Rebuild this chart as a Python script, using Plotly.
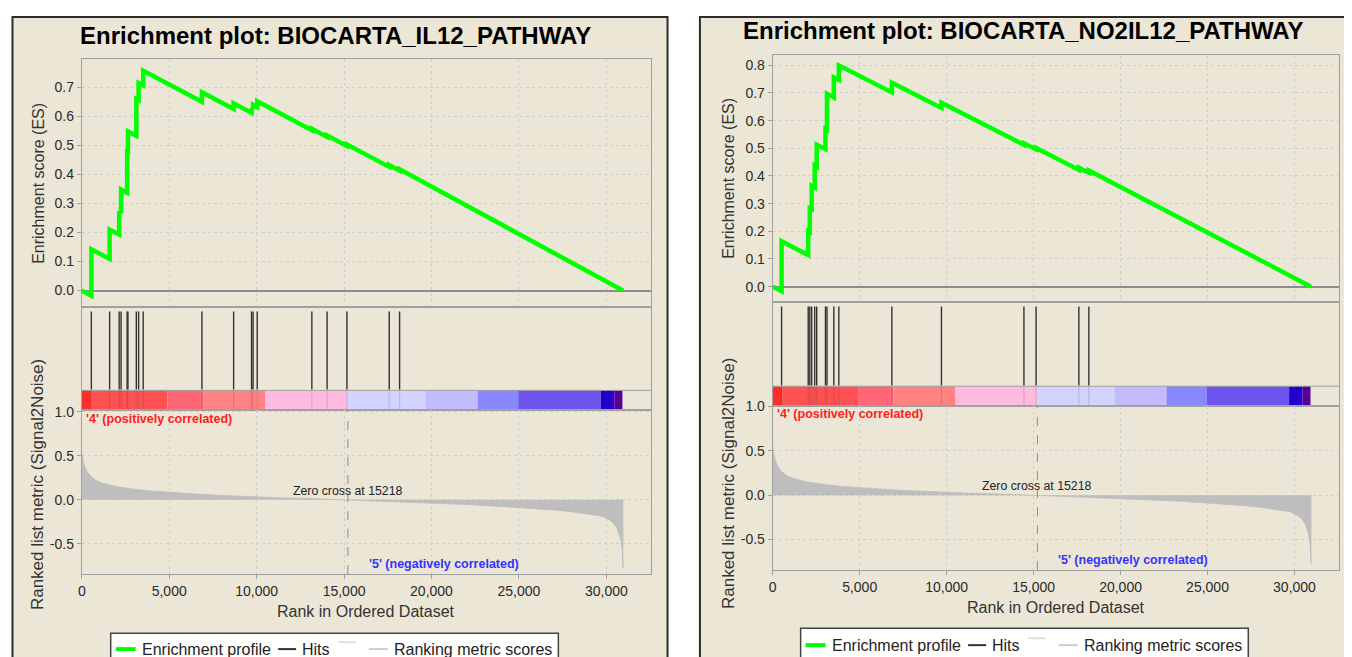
import plotly.graph_objects as go

# The page keeps the browser's default 8px body margin, so the figure is
# placed at (8, 8) of the page; geometry below is given in page pixels.
PAGE_OFF = 8
W, H = 1336, 649
FONT = "Liberation Sans, Arial, sans-serif"

# ---------------- data ----------------
X_TICKS = [0, 5000, 10000, 15000, 20000, 25000, 30000]
X_TICK_LABELS = ["0", "5,000", "10,000", "15,000", "20,000", "25,000", "30,000"]
X_MAX = 32560

ES_TICKS_LEFT = [0.0, 0.1, 0.2, 0.3, 0.4, 0.5, 0.6, 0.7]
ES_TICKS_RIGHT = [0.0, 0.1, 0.2, 0.3, 0.4, 0.5, 0.6, 0.7, 0.8]
METRIC_TICKS = [-0.5, 0.0, 0.5, 1.0]

TITLE_LEFT = "Enrichment plot: BIOCARTA_IL12_PATHWAY"
TITLE_RIGHT = "Enrichment plot: BIOCARTA_NO2IL12_PATHWAY"

LEFT_HITS = [547, 1591, 2138, 2246, 2594, 2640, 3119, 3250, 3512, 6870, 8683,
             9709, 9795, 10034, 13158, 14031, 15165, 17583, 18176]
LEFT_ES_RANK = [0, 547, 547, 1591, 1591, 2138, 2138, 2246, 2246, 2594, 2594,
                2640, 2640, 3119, 3119, 3250, 3250, 3512, 3512, 6870, 6870,
                8683, 8683, 9709, 9709, 9795, 9795, 10034, 10034, 13158, 13158,
                14031, 14031, 15165, 15165, 17583, 17583, 18176, 18176, 30950]
LEFT_ES_VALUE = [0.0, -0.018, 0.142, 0.109, 0.21, 0.193, 0.272, 0.268, 0.348,
                 0.337, 0.478, 0.477, 0.548, 0.533, 0.66, 0.656, 0.715, 0.707,
                 0.757, 0.65, 0.683, 0.625, 0.645, 0.612, 0.628, 0.625, 0.64,
                 0.632, 0.652, 0.552, 0.557, 0.529, 0.534, 0.498, 0.503, 0.426,
                 0.432, 0.413, 0.418, 0.0]

RIGHT_HITS = [510, 2041, 2133, 2242, 2414, 2529, 3033, 3119, 3515, 3802, 6852,
              9702, 14444, 15143, 17603, 18177]
RIGHT_ES_RANK = [0, 510, 510, 2041, 2041, 2133, 2133, 2242, 2242, 2414, 2414,
                 2529, 2529, 3033, 3033, 3119, 3119, 3515, 3515, 3802, 3802,
                 6852, 6852, 9702, 9702, 14444, 14444, 15143, 15143, 17603,
                 17603, 18177, 18177, 30950]
RIGHT_ES_VALUE = [0.0, -0.017, 0.164, 0.114, 0.2, 0.197, 0.283, 0.28, 0.364,
                  0.358, 0.438, 0.434, 0.513, 0.497, 0.57, 0.567, 0.697, 0.684,
                  0.756, 0.747, 0.80, 0.702, 0.737, 0.646, 0.665, 0.513, 0.518,
                  0.496, 0.501, 0.422, 0.43, 0.412, 0.42, 0.0]

METRIC_RANK = [0, 100, 300, 500, 800, 1200, 2000, 3000, 4000, 5000, 6000, 7000,
               8000, 9000, 10000, 11500, 13000, 14000, 15218, 16000, 17000,
               18000, 19000, 20000, 21000, 22000, 23000, 24000, 25000, 26000,
               27000, 28000, 29000, 29760, 30200, 30430, 30600, 30710, 30800,
               30860, 30920, 30950, 30950]
METRIC_VALUE = [0.54, 0.42, 0.32, 0.27, 0.22, 0.19, 0.15, 0.12, 0.10, 0.085,
                0.07, 0.06, 0.05, 0.04, 0.032, 0.022, 0.015, 0.008, 0.0,
                -0.008, -0.015, -0.022, -0.03, -0.037, -0.045, -0.053, -0.063,
                -0.075, -0.088, -0.1, -0.115, -0.135, -0.16, -0.185, -0.23,
                -0.27, -0.32, -0.37, -0.43, -0.5, -0.6, -0.77, 0.0]
ZERO_CROSS = 15218

BAND_EDGES = [0, 570, 4900, 6950, 10500, 15200, 19650, 22640, 24960, 29690,
              30460, 30920]
BAND_COLORS = ["#FF2E2E", "#FF5151", "#FF6777", "#FF8383", "#FFBBDF",
               "#D3D3FF", "#C4BBFF", "#8888FF", "#6E55EE", "#2400CF", "#560099"]

LEGEND_LABELS = ["Enrichment profile", "Hits", "Ranking metric scores"]


# ---------------- layout geometry (page pixels) ----------------
def fx(p):
    return (p - PAGE_OFF) / W


def fy(p):
    return 1 - (p - PAGE_OFF) / H


panels = [
    dict(title=TITLE_LEFT, title_x=332, title_y=28, frame=(8.5, 665.5),
         plot_x=(78, 649), es_y=(52, 303), hits_y=(303, 407),
         metric_y=(407, 573), es_range=[-0.058, 0.796],
         metric_range=[-0.843, 1.02], es_ticks=ES_TICKS_LEFT,
         hits=LEFT_HITS, es_rank=LEFT_ES_RANK, es_val=LEFT_ES_VALUE,
         es_title_x=35, es_title_y=177, m_title_x=33, m_title_y=482,
         xtitle_y=611, legend_x=107, legend_top=633, legend_text_y=649,
         pos_y=0.92),
    dict(title=TITLE_RIGHT, title_x=1023, title_y=23, frame=(698, 1347),
         plot_x=(771, 1339), es_y=(47, 298), hits_y=(298, 403),
         metric_y=(403, 569), es_range=[-0.057, 0.839],
         metric_range=[-0.844, 1.005], es_ticks=ES_TICKS_RIGHT,
         hits=RIGHT_HITS, es_rank=RIGHT_ES_RANK, es_val=RIGHT_ES_VALUE,
         es_title_x=727, es_title_y=172, m_title_x=726, m_title_y=481,
         xtitle_y=607, legend_x=799, legend_top=628, legend_text_y=645,
         pos_y=0.915),
]

fig = go.Figure()
layout = dict(width=W, height=H, margin=dict(l=0, r=0, t=0, b=0),
              paper_bgcolor="white", plot_bgcolor="white", showlegend=False,
              font=dict(family=FONT, color="#333333"))
shapes = []
annotations = []

GRID = "#CFCFCF"
BORDER = "#A0A0A0"
TICK_FONT = dict(size=14, color="#2A2A2A")
HIT_BOTTOM, HIT_TOP, BAR_TOP = 0.2, 0.96, 0.192


def axname(n, kind):
    return f"{kind}axis" if n == 1 else f"{kind}axis{n}"


def ref(n, kind):
    return kind if n == 1 else f"{kind}{n}"


for i, p in enumerate(panels):
    n_es, n_hits, n_m = 3 * i + 1, 3 * i + 2, 3 * i + 3
    xdom = [fx(p["plot_x"][0]), fx(p["plot_x"][1])]

    # panel frame (beige)
    shapes.append(dict(type="rect", xref="paper", yref="paper",
                       x0=fx(p["frame"][0]), x1=fx(p["frame"][1]),
                       y0=fy(700), y1=fy(9), fillcolor="#ECE6D6",
                       line=dict(color="#2B2B2B", width=2), layer="below"))

    base_x = dict(range=[0, X_MAX], domain=xdom, showline=True, mirror=True,
                  linecolor=BORDER, linewidth=1, zeroline=False,
                  fixedrange=True, tickvals=X_TICKS)
    # ES axes
    layout[axname(n_es, "x")] = dict(base_x, anchor=ref(n_es, "y"),
                                     showgrid=True, gridcolor=GRID,
                                     griddash="dot", showticklabels=False,
                                     ticks="")
    layout[axname(n_es, "y")] = dict(
        domain=[fy(p["es_y"][1]), fy(p["es_y"][0])], range=p["es_range"],
        anchor=ref(n_es, "x"), tickvals=p["es_ticks"],
        ticktext=[f"{v:.1f}" for v in p["es_ticks"]], ticks="outside",
        ticklen=4, tickcolor=BORDER, showgrid=True, gridcolor=GRID,
        griddash="dot", zeroline=True, zerolinecolor="#8C8C8C",
        zerolinewidth=1.5, showline=True, mirror=True, linecolor=BORDER,
        tickfont=TICK_FONT, fixedrange=True)
    # hits axes
    layout[axname(n_hits, "x")] = dict(base_x, anchor=ref(n_hits, "y"),
                                       showgrid=False, showticklabels=False,
                                       ticks="")
    layout[axname(n_hits, "y")] = dict(
        domain=[fy(p["hits_y"][1]), fy(p["hits_y"][0])], range=[0, 1],
        anchor=ref(n_hits, "x"), showgrid=False, showticklabels=False,
        zeroline=False, showline=True, mirror=True, linecolor=BORDER,
        ticks="", fixedrange=True)
    # metric axes
    layout[axname(n_m, "x")] = dict(base_x, anchor=ref(n_m, "y"),
                                    showgrid=True, gridcolor=GRID,
                                    griddash="dot", ticktext=X_TICK_LABELS,
                                    ticks="outside", ticklen=4,
                                    tickcolor=BORDER, tickfont=TICK_FONT)
    layout[axname(n_m, "y")] = dict(
        domain=[fy(p["metric_y"][1]), fy(p["metric_y"][0])],
        range=p["metric_range"], anchor=ref(n_m, "x"),
        tickvals=METRIC_TICKS, ticktext=[f"{v:.1f}" for v in METRIC_TICKS],
        ticks="outside", ticklen=4, tickcolor=BORDER, showgrid=True,
        gridcolor=GRID, griddash="dot", zeroline=False, showline=True,
        mirror=True, linecolor=BORDER, tickfont=TICK_FONT, fixedrange=True)

    xr_es, yr_es = ref(n_es, "x"), ref(n_es, "y")
    xr_h, yr_h = ref(n_hits, "x"), ref(n_hits, "y")
    xr_m, yr_m = ref(n_m, "x"), ref(n_m, "y")

    # ranked list metric
    fig.add_trace(go.Scatter(x=METRIC_RANK, y=METRIC_VALUE, mode="lines",
                             fill="tozeroy", fillcolor="#BEBEBE",
                             line=dict(color="#BEBEBE", width=0.8),
                             xaxis=xr_m, yaxis=yr_m, hoverinfo="skip"))

    # colour band
    for j, c in enumerate(BAND_COLORS):
        shapes.append(dict(type="rect", xref=xr_h, yref=yr_h,
                           x0=BAND_EDGES[j], x1=BAND_EDGES[j + 1], y0=0,
                           y1=BAR_TOP, fillcolor=c, line=dict(width=0),
                           layer="below"))
    shapes.append(dict(type="line", xref=f"{xr_h} domain", yref=yr_h, x0=0,
                       x1=1, y0=BAR_TOP, y1=BAR_TOP,
                       line=dict(color=BORDER, width=1)))

    # hits
    hx, hy, fxs, fys = [], [], [], []
    for h in p["hits"]:
        hx += [h, h, None]
        hy += [HIT_BOTTOM, HIT_TOP, None]
        fxs += [h, h, None]
        fys += [0, BAR_TOP, None]
    fig.add_trace(go.Scatter(x=fxs, y=fys, mode="lines",
                             line=dict(color="rgba(60,60,60,0.18)", width=1.2),
                             xaxis=xr_h, yaxis=yr_h, hoverinfo="skip"))
    fig.add_trace(go.Scatter(x=hx, y=hy, mode="lines",
                             line=dict(color="#333333", width=1.4),
                             xaxis=xr_h, yaxis=yr_h, hoverinfo="skip"))

    # enrichment profile
    fig.add_trace(go.Scatter(x=p["es_rank"], y=p["es_val"], mode="lines",
                             line=dict(color="#00FF00", width=4.5),
                             xaxis=xr_es, yaxis=yr_es, hoverinfo="skip"))

    # zero cross line
    shapes.append(dict(type="line", xref=xr_m, yref=f"{yr_m} domain",
                       x0=ZERO_CROSS, x1=ZERO_CROSS, y0=0, y1=1,
                       line=dict(color="#8C8C8C", width=1, dash="dash")))

    # texts
    annotations.append(dict(text=f"<b>{p['title']}</b>", xref="paper",
                            yref="paper", x=fx(p["title_x"]),
                            y=fy(p["title_y"]), xanchor="center",
                            yanchor="middle", showarrow=False,
                            font=dict(size=24, color="#000000")))
    annotations.append(dict(text="Enrichment score (ES)", xref="paper",
                            yref="paper", x=fx(p["es_title_x"]),
                            y=fy(p["es_title_y"]), textangle=-90,
                            xanchor="center", yanchor="middle",
                            showarrow=False,
                            font=dict(size=16, color="#333333")))
    annotations.append(dict(text="Ranked list metric (Signal2Noise)",
                            xref="paper", yref="paper",
                            x=fx(p["m_title_x"]), y=fy(p["m_title_y"]),
                            textangle=-90, xanchor="center",
                            yanchor="middle", showarrow=False,
                            font=dict(size=17, color="#333333")))
    annotations.append(dict(text="Rank in Ordered Dataset", xref="paper",
                            yref="paper",
                            x=fx((p["plot_x"][0] + p["plot_x"][1]) / 2),
                            y=fy(p["xtitle_y"]), xanchor="center",
                            yanchor="middle", showarrow=False,
                            font=dict(size=16, color="#333333")))
    annotations.append(dict(text="<b>'4' (positively correlated)</b>",
                            xref=xr_m, yref=yr_m, x=110, y=p["pos_y"],
                            xanchor="left", yanchor="middle", showarrow=False,
                            font=dict(size=12.5, color="#FF2020")))
    annotations.append(dict(text="<b>'5' (negatively correlated)</b>",
                            xref=xr_m, yref=yr_m, x=20700, y=-0.73,
                            xanchor="center", yanchor="middle",
                            showarrow=False,
                            font=dict(size=12.5, color="#3333FF")))
    annotations.append(dict(text=f"Zero cross at {ZERO_CROSS}", xref=xr_m,
                            yref=yr_m, x=ZERO_CROSS, y=0.1, xanchor="center",
                            yanchor="middle", showarrow=False,
                            font=dict(size=12.3, color="#222222")))

    # legend box
    L = p["legend_x"]
    ty = p["legend_text_y"]
    shapes.append(dict(type="rect", xref="paper", yref="paper", x0=fx(L),
                       x1=fx(L + 449), y0=fy(700), y1=fy(p["legend_top"]),
                       fillcolor="white", line=dict(color="#444444", width=1.5),
                       layer="above"))
    for (a, b, dy, col, wd) in [(5, 25, 0, "#00FF00", 4),
                                (168, 186, 0, "#333333", 2),
                                (228, 246, -7, "#E0E0E0", 2),
                                (259, 278, 0, "#CCCCCC", 2)]:
        shapes.append(dict(type="line", xref="paper", yref="paper",
                           x0=fx(L + a), x1=fx(L + b), y0=fy(ty + dy),
                           y1=fy(ty + dy), line=dict(color=col, width=wd),
                           layer="above"))
    for lab, off in zip(LEGEND_LABELS, [29, 190, 282]):
        annotations.append(dict(text=lab, xref="paper", yref="paper",
                                x=fx(L + off), y=fy(ty), xanchor="left",
                                yanchor="middle", showarrow=False,
                                font=dict(size=16, color="#222222")))

layout["shapes"] = shapes
layout["annotations"] = annotations
fig.update_layout(**layout)

fig.write_html("out.html", config={"displayModeBar": False})
